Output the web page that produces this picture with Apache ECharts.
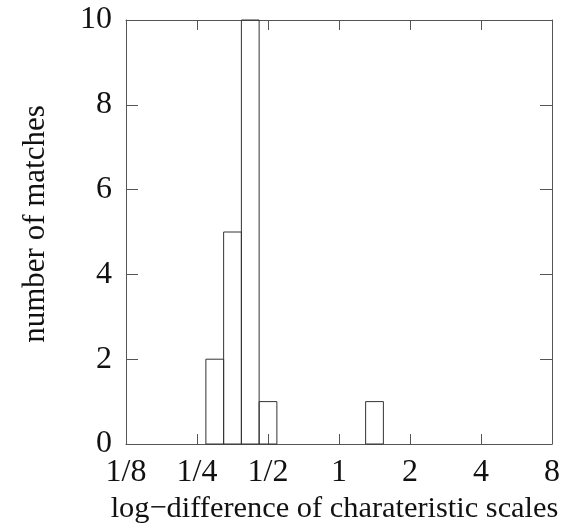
<!DOCTYPE html>
<html>
<head>
<meta charset="utf-8">
<script src="https://cdn.jsdelivr.net/npm/echarts@6/dist/echarts.min.js"></script>
<style>html,body{margin:0;padding:0;background:#fff;}#c{width:575px;height:531px;}</style>
</head>
<body>
<div id="c"></div>
<script>
// x positions are log2 of the log-difference; tick labels show 2^k
const tickLabels = ["1/8", "1/4", "1/2", "1", "2", "4", "8"];
const binCenters = [-1.75, -1.5, -1.25, -1.0, 0.5];
const binWidth = 0.25;
const counts = [2, 5, 10, 1, 1];
const yTicks = [0, 2, 4, 6, 8, 10];

const font = "'Liberation Serif', 'Times New Roman', serif";
const frameColor = '#555';
const chart = echarts.init(document.getElementById('c'), null, {renderer: 'canvas'});
const data = binCenters.map((c, i) => [c, counts[i]]);
const xFmt = v => tickLabels[Math.round(v) + 3];
const line = {show: true, onZero: false, lineStyle: {color: frameColor, width: 1}};
chart.setOption({
  animation: false,
  backgroundColor: '#fff',
  grid: {left: 126, right: 23, top: 20, bottom: 87, containLabel: false},
  xAxis: [{
    type: 'value', min: -3, max: 3, interval: 1, position: 'bottom',
    name: 'log\u2212difference of charateristic scales',
    nameLocation: 'middle', nameGap: 48,
    nameTextStyle: {fontFamily: font, fontSize: 30.4, color: '#111', padding: [0, 9, 0, 0]},
    axisLine: line,
    axisTick: {show: true, inside: true, length: 10, lineStyle: {color: frameColor}},
    axisLabel: {fontFamily: font, fontSize: 32, color: '#111', margin: 13, formatter: xFmt},
    splitLine: {show: false}
  }, {
    type: 'value', min: -3, max: 3, interval: 1, position: 'top',
    axisLine: line,
    axisTick: {show: true, inside: true, length: 10, lineStyle: {color: frameColor}},
    axisLabel: {show: false}, splitLine: {show: false}
  }],
  yAxis: [{
    type: 'value', min: yTicks[0], max: yTicks[yTicks.length - 1], interval: 2, position: 'left',
    name: 'number of matches', nameLocation: 'middle', nameGap: 75,
    nameTextStyle: {fontFamily: font, fontSize: 31, color: '#111', padding: [0, 0, 0, 16]},
    axisLine: line,
    axisTick: {show: true, inside: true, length: 12, lineStyle: {color: frameColor}},
    axisLabel: {fontFamily: font, fontSize: 32, color: '#111', margin: 14},
    splitLine: {show: false}
  }, {
    type: 'value', min: yTicks[0], max: yTicks[yTicks.length - 1], interval: 2, position: 'right',
    axisLine: line,
    axisTick: {show: true, inside: true, length: 12, lineStyle: {color: frameColor}},
    axisLabel: {show: false}, splitLine: {show: false}
  }],
  series: [{
    type: 'custom',
    xAxisIndex: 0, yAxisIndex: 0,
    data: data,
    renderItem: function (params, api) {
      const c = api.value(0), v = api.value(1);
      const p0 = api.coord([c - binWidth / 2, v]);
      const p1 = api.coord([c + binWidth / 2, 0]);
      return {
        type: 'rect',
        shape: {x: p0[0], y: p0[1], width: p1[0] - p0[0], height: p1[1] - p0[1]},
        style: {fill: 'none', stroke: '#333', lineWidth: 1}
      };
    }
  }]
});
</script>
</body>
</html>
